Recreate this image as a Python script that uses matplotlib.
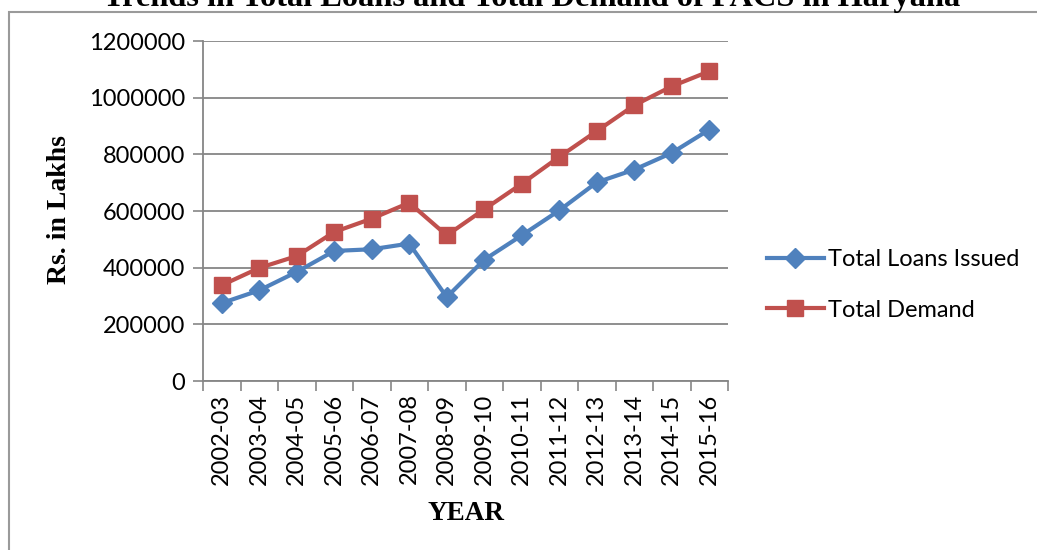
import matplotlib
matplotlib.use("Agg")
import matplotlib.pyplot as plt
from matplotlib.patches import Rectangle

years = ["2002-03", "2003-04", "2004-05", "2005-06", "2006-07", "2007-08", "2008-09",
         "2009-10", "2010-11", "2011-12", "2012-13", "2013-14", "2014-15", "2015-16"]
loans_issued = [275000, 320000, 385000, 459000, 465000, 485000, 296000,
                428000, 514000, 602000, 701000, 746000, 805000, 887000]
total_demand = [338000, 399000, 441000, 526000, 573000, 629000, 514000,
                606000, 696000, 791000, 882000, 973000, 1040000, 1093000]

BLUE = "#4F81BD"
RED = "#C0504D"
GRIS = "#868686"
W, H = 1037, 550

fig = plt.figure(figsize=(W / 100, H / 100), dpi=100)
fig.patch.set_facecolor("white")

# marco exterior del grafico
fig.patches.append(Rectangle((9 / W, -0.1), 1.2, 1 - 12 / H + 0.1, transform=fig.transFigure,
                             fill=False, edgecolor="#9a9a9a", linewidth=1.5))

ax = fig.add_axes([203 / W, 1 - 381 / H, (728 - 203) / W, (381 - 41) / H])
x = list(range(len(years)))
ax.plot(x, loans_issued, color=BLUE, lw=3, marker="D", ms=10.5, label="Total Loans Issued")
ax.plot(x, total_demand, color=RED, lw=3, marker="s", ms=12, label="Total Demand")

ax.set_xlim(-0.5, len(years) - 0.5)
ax.set_ylim(0, 1200000)
ax.set_yticks(range(0, 1200001, 200000))
ax.set_yticklabels([str(v) for v in range(0, 1200001, 200000)], fontsize=17, family="Lato")
ax.set_xticks(x)
ax.set_xticklabels(years, rotation=90, fontsize=17, family="Lato")
ax.set_xticks([i - 0.5 for i in range(len(years) + 1)], minor=True)
ax.tick_params(axis="x", which="major", length=0, pad=9)
ax.tick_params(axis="x", which="minor", length=7, width=1.2, color=GRIS)
ax.tick_params(axis="y", length=7, width=1.2, color=GRIS, pad=6)
ax.grid(axis="y", color=GRIS, lw=1.3)
ax.set_axisbelow(True)
for s in ["top", "right"]:
    ax.spines[s].set_visible(False)
for s in ["left", "bottom"]:
    ax.spines[s].set_color(GRIS)
    ax.spines[s].set_linewidth(1.3)

fig.text(532 / W, 1 - 6 / H, "Trends in Total Loans and Total Demand of PACS in Haryana",
         ha="center", va="baseline", fontsize=23.3, fontweight="bold", family="Liberation Serif")
fig.text(60 / W, 1 - 210 / H, "Rs. in Lakhs", rotation=90, ha="center", va="center",
         fontsize=20, fontweight="bold", family="Liberation Serif")
fig.text(466 / W, 1 - 514 / H, "YEAR", ha="center", va="center",
         fontsize=19.5, fontweight="bold", family="Liberation Serif")

fig.legend(loc="center left", bbox_to_anchor=(767 / W, 1 - 285 / H), frameon=False,
           prop={"family": "Lato", "size": 17}, handlelength=2.4, handletextpad=0.2,
           labelspacing=1.25, borderpad=0, borderaxespad=0)

fig.savefig("out.png", dpi=100)
